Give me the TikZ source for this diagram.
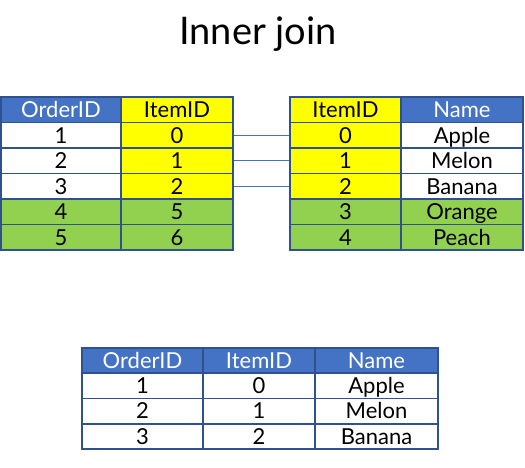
\documentclass[tikz,border=0pt]{standalone}
\usepackage{fontspec}
\setmainfont{Lato}
\definecolor{hdr}{HTML}{4472C4}
\definecolor{yel}{HTML}{FFFF00}
\definecolor{grn}{HTML}{92D050}
\definecolor{bord}{HTML}{2F528F}
\begin{document}
\begin{tikzpicture}[x=1pt,y=-1pt,
  cell/.style={draw=bord, line width=1.8pt, inner sep=0pt, text height=15.5pt, text depth=0pt, font=\fontsize{22}{22}\selectfont},
  conn/.style={draw=hdr, line width=0.8pt},
  title/.style={font=\fontsize{38}{38}\selectfont, inner sep=0pt}]
\useasboundingbox (0,0) rectangle (525,467);
\node[title] (title) at (258,34) {Inner join};
% left table
\foreach \ta/\tb/\fa/\fb/\ca [count=\i from 0] in {OrderID/ItemID/hdr/yel/white, 1/0/white/yel/black, 2/1/white/yel/black, 3/2/white/yel/black, 4/5/grn/grn/black, 5/6/grn/grn/black}{
  \node[cell, fill=\fa, text=\ca, minimum width=120pt, minimum height=25.5pt] (L\i a) at (61,{109.75+25.5*\i}) {\ta};
  \node[cell, fill=\fb, minimum width=112pt, minimum height=25.5pt] (L\i b) at (177,{109.75+25.5*\i}) {\tb};
}
% right table
\foreach \ta/\tb/\fa/\fb/\cb [count=\i from 0] in {ItemID/Name/yel/hdr/white, 0/Apple/yel/white/black, 1/Melon/yel/white/black, 2/Banana/yel/white/black, 3/Orange/grn/grn/black, 4/Peach/grn/grn/black}{
  \node[cell, fill=\fa, minimum width=111pt, minimum height=25.5pt] (R\i a) at (345.5,{109.75+25.5*\i}) {\ta};
  \node[cell, fill=\fb, text=\cb, minimum width=122pt, minimum height=25.5pt] (R\i b) at (462,{109.75+25.5*\i}) {\tb};
}
% connectors
\foreach \i in {1,2,3}{
  \draw[conn] (L\i b.east) -- (R\i a.west);
}
% result table
\foreach \ta/\tb/\tc/\f/\c [count=\i from 0] in {OrderID/ItemID/Name/hdr/white, 1/0/Apple/white/black, 2/1/Melon/white/black, 3/2/Banana/white/black}{
  \node[cell, fill=\f, text=\c, minimum width=121pt, minimum height=25.3pt] (B\i a) at (142.5,{360.5+25.3*\i}) {\ta};
  \node[cell, fill=\f, text=\c, minimum width=112pt, minimum height=25.3pt] (B\i b) at (259,{360.5+25.3*\i}) {\tb};
  \node[cell, fill=\f, text=\c, minimum width=123pt, minimum height=25.3pt] (B\i c) at (376.5,{360.5+25.3*\i}) {\tc};
}
\end{tikzpicture}
\end{document}
